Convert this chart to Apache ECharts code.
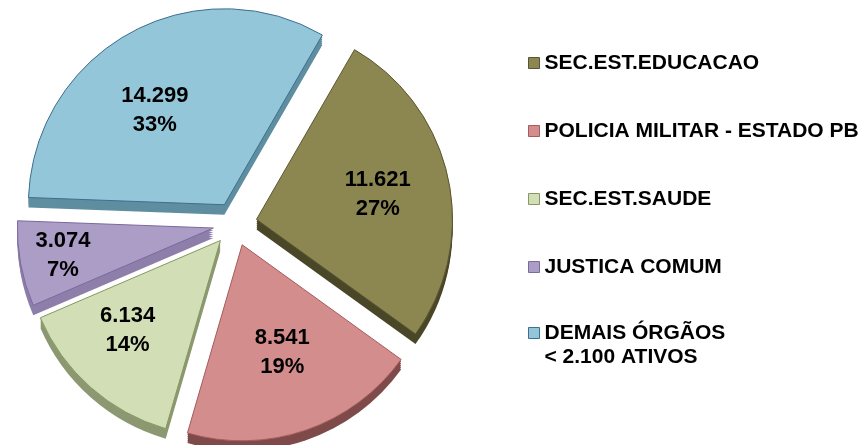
<!DOCTYPE html>
<html>
<head>
<meta charset="utf-8">
<script src="https://cdn.jsdelivr.net/npm/echarts@6/dist/echarts.min.js"></script>
<style>
    html, body { margin: 0; padding: 0; background: #fff; }
    #pie-chart { width: 867px; height: 445px; }
</style>
</head>
<body>
<div id="pie-chart"></div>
<script>
// dados do gráfico
var categories = ['SEC.EST.EDUCACAO', 'POLICIA MILITAR - ESTADO PB', 'SEC.EST.SAUDE', 'JUSTICA COMUM', 'DEMAIS ÓRGÃOS\n< 2.100 ATIVOS'];
var values = [11621, 8541, 6134, 3074, 14299];
var percentLabels = ['27%', '19%', '14%', '7%', '33%'];

document.addEventListener('DOMContentLoaded', function () {
    var chart = echarts.init(document.getElementById('pie-chart'));

    var faceColors = ['#8C8651', '#D38D8D', '#D2DEB5', '#AC9DC7', '#93C6D8'];
    var sideColors = ['#4A4628', '#7E4A4A', '#8C9872', '#8D7FAA', '#5E8EA0'];
    var borderColors = ['#5A5531', '#A65C5C', '#86985F', '#7A6A9E', '#3F6F8F'];
    var labelPush = [25, 16, 30, 55, 20];   // empurra os rótulos para fora
    var labelNudge = [[-2, 1], [2, -3], [-6, -8], [3, -1], [-11, 12]];
    var font = '"Liberation Sans", Arial, sans-serif';
    var cx = 235, cy = 224, radius = 196, startAngle = 60, explode = 22;

    function fmt(v) {
        return String(v).replace(/\B(?=(\d{3})+(?!\d))/g, '.');
    }

    // ângulo médio de cada fatia (sentido horário a partir de startAngle)
    var total = values.reduce(function (a, b) { return a + b; }, 0);
    var midAngles = [];
    var acc = 0;
    values.forEach(function (v) {
        midAngles.push((startAngle - (acc + v / 2) / total * 360) * Math.PI / 180);
        acc += v;
    });

    function sliceData(colors, withBorder) {
        return categories.map(function (name, i) {
            var style = { color: colors[i], borderColor: withBorder ? borderColors[i] : colors[i], borderWidth: withBorder ? 1 : 0 };
            return { name: name, value: values[i], selected: true, itemStyle: style, select: { itemStyle: style } };
        });
    }

    var series = [{
        type: 'pie',
        z: 3,
        center: [cx, cy],
        radius: radius,
        startAngle: startAngle,
        clockwise: true,
        selectedMode: 'multiple',
        selectedOffset: explode,
        avoidLabelOverlap: false,
        animation: false,
        emphasis: { disabled: true },
        label: {
            show: true,
            position: 'inside',
            fontFamily: font,
            fontSize: 22,
            fontWeight: 'bold',
            color: '#000',
            lineHeight: 29,
            align: 'center',
            formatter: function (p) {
                return fmt(p.value) + '\n' + percentLabels[p.dataIndex];
            }
        },
        labelLine: { show: false },
        labelLayout: function (p) {
            var i = p.dataIndex;
            var a = midAngles[i];
            return {
                dx: Math.cos(a) * labelPush[i] + labelNudge[i][0],
                dy: -Math.sin(a) * labelPush[i] + labelNudge[i][1]
            };
        },
        data: sliceData(faceColors, true)
    }];

    // camadas da lateral 3D
    [10, 8, 6, 4, 2].forEach(function (shift) {
        series.push({
            type: 'pie',
            z: 2,
            silent: true,
            center: [cx, cy + shift],
            radius: radius,
            startAngle: startAngle,
            clockwise: true,
            selectedMode: 'multiple',
            selectedOffset: explode,
            animation: false,
            emphasis: { disabled: true },
            label: { show: false },
            labelLine: { show: false },
            data: sliceData(sideColors, false)
        });
    });

    var legendBase = {
        orient: 'vertical',
        left: 523,
        icon: 'rect',
        itemWidth: 11,
        itemHeight: 11,
        itemGap: 46,
        selectedMode: false,
        itemStyle: { borderWidth: 1 },
        textStyle: { fontFamily: font, fontSize: 21, fontWeight: 'bold', color: '#000', lineHeight: 22 }
    };

    var option = {
        backgroundColor: '#fff',
        legend: [
            Object.assign({}, legendBase, { top: 47, data: categories.slice(0, 4) }),
            // último item com duas linhas: o ícone fica alinhado com a primeira
            Object.assign({}, legendBase, {
                top: 292,
                textStyle: Object.assign({}, legendBase.textStyle, { lineHeight: 24 }),
                formatter: function (name) { return ' \n' + name; },
                data: categories.slice(4)
            })
        ],
        series: series
    };

    try {
        chart.setOption(option);
    } catch (error) {
        console.error('Error setting the chart option:', error);
    }
});
</script>
</body>
</html>
